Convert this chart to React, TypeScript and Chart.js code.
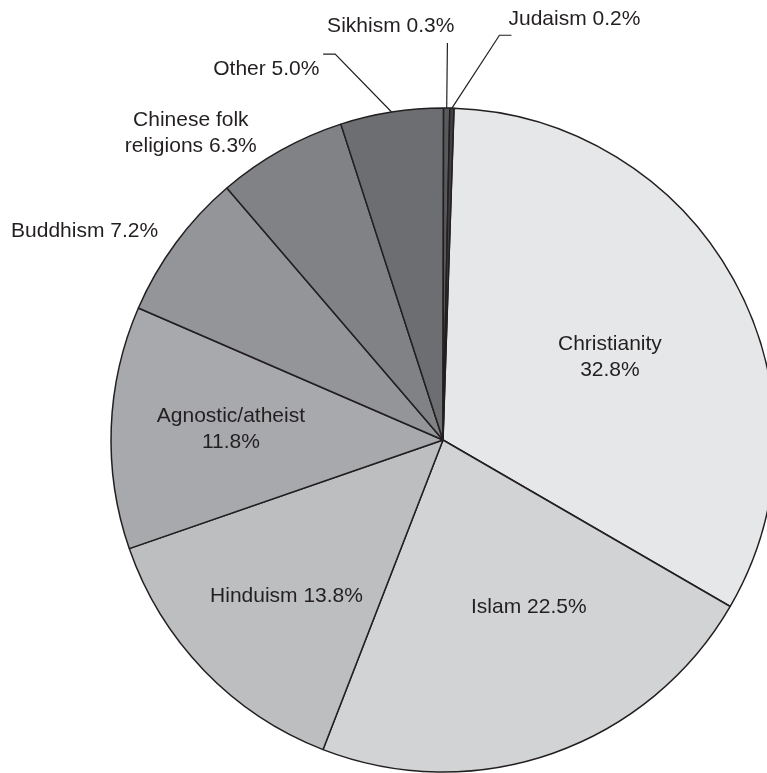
import React, { useEffect, useRef } from "react";
import { Chart, registerables } from "chart.js";

Chart.register(...registerables);

// ---- data ----
const categories = [
  "Christianity",
  "Islam",
  "Hinduism",
  "Agnostic/atheist",
  "Buddhism",
  "Chinese folk religions",
  "Other",
  "Sikhism",
  "Judaism",
];
const shares = [32.8, 22.5, 13.8, 11.8, 7.2, 6.3, 5.0, 0.3, 0.2];
const sliceColors = [
  "#e6e7e8",
  "#d1d3d4",
  "#bcbec0",
  "#a7a9ac",
  "#939598",
  "#808285",
  "#6d6e71",
  "#58595b",
  "#414042",
];

// ---- label placement (relative to each slice's mid-angle) ----
type Place = {
  rf?: number;
  dA?: number;
  align: CanvasTextAlign;
  brk?: "pct" | number;
  leader?: { rf: number; dA: number; tail: number };
  text?: { dx: number; dy: number };
};
const placement: Place[] = [
  { rf: 0.571, dA: 0.7, align: "center", brk: "pct" },
  { rf: 0.582, dA: -7.0, align: "center" },
  { rf: 0.678, dA: -2.0, align: "center" },
  { rf: 0.641, dA: 2.6, align: "center", brk: "pct" },
  { rf: 1.054, dA: -0.9, align: "right" },
  { rf: 1.213, dA: -9.5, align: "center", brk: 2 },
  { leader: { rf: 1.207, dA: -6.7, tail: -12 }, text: { dx: -15.7, dy: 21 }, align: "right" },
  { leader: { rf: 1.196, dA: 0, tail: 0 }, text: { dx: -56.7, dy: -11 }, align: "center" },
  { leader: { rf: 1.231, dA: 6.4, tail: 12 }, text: { dx: 9, dy: -10 }, align: "left" },
];

const INK = "#231f20";
const FONT = "21px 'Liberation Sans', Arial, Helvetica, sans-serif";
const LINE_H = 26;

function labelLines(i: number): string[] {
  const name = categories[i];
  const pct = shares[i].toFixed(1) + "%";
  const p = placement[i];
  if (p.brk === "pct") return [name, pct];
  if (typeof p.brk === "number") {
    const words = name.split(" ");
    return [words.slice(0, p.brk).join(" "), words.slice(p.brk).join(" ") + " " + pct];
  }
  return [name + " " + pct];
}

const labelPlugin = {
  id: "sliceLabels",
  afterDatasetsDraw(chart: any) {
    const meta = chart.getDatasetMeta(0);
    const ctx: CanvasRenderingContext2D = chart.ctx;
    ctx.save();
    ctx.font = FONT;
    ctx.fillStyle = INK;
    ctx.strokeStyle = INK;
    ctx.lineWidth = 1.2;
    ctx.textBaseline = "alphabetic";
    meta.data.forEach((arc: any, i: number) => {
      const { x, y, startAngle, endAngle, outerRadius } = arc.getProps(
        ["x", "y", "startAngle", "endAngle", "outerRadius"],
        true
      );
      const mid = (startAngle + endAngle) / 2;
      const pt = (rf: number, dA: number) => {
        const a = mid + (dA * Math.PI) / 180;
        return { px: x + rf * outerRadius * Math.cos(a), py: y + rf * outerRadius * Math.sin(a) };
      };
      const p = placement[i];
      let ax: number, ay: number;
      if (p.leader) {
        const s = pt(1, 0);
        const e = pt(p.leader.rf, p.leader.dA);
        ctx.beginPath();
        ctx.moveTo(s.px, s.py);
        ctx.lineTo(e.px, e.py);
        if (p.leader.tail) ctx.lineTo(e.px + p.leader.tail, e.py);
        ctx.stroke();
        ax = e.px + (p.text ? p.text.dx : 0);
        ay = e.py + (p.text ? p.text.dy : 0);
      } else {
        const q = pt(p.rf ?? 0.6, p.dA ?? 0);
        ax = q.px;
        ay = q.py;
      }
      ctx.textAlign = p.align;
      labelLines(i).forEach((line, k) => ctx.fillText(line, ax, ay + k * LINE_H));
    });
    ctx.restore();
  },
};

export default function App() {
  const ref = useRef<HTMLCanvasElement | null>(null);
  useEffect(() => {
    if (!ref.current) return;
    const chart = new Chart(ref.current, {
      type: "pie",
      data: {
        labels: categories,
        datasets: [
          {
            data: shares,
            backgroundColor: sliceColors,
            borderColor: INK,
            borderWidth: 1.5,
            clip: false as any,
          },
        ],
      },
      options: {
        responsive: false,
        maintainAspectRatio: false,
        devicePixelRatio: 1,
        animation: false,
        rotation: 1.9,
        radius: 332,
        layout: { padding: { left: 119, top: 107, right: 0, bottom: 0 } },
        plugins: {
          legend: { display: false },
          tooltip: { enabled: false },
          title: { display: false },
        },
        events: [],
      } as any,
      plugins: [labelPlugin],
    });
    return () => chart.destroy();
  }, []);
  return (
    <div
      style={{
        position: "fixed",
        left: 0,
        top: 0,
        width: 767,
        height: 773,
        overflow: "hidden",
        background: "#ffffff",
      }}
    >
      <canvas ref={ref} width={767} height={773} style={{ display: "block", width: 767, height: 773 }} />
    </div>
  );
}
